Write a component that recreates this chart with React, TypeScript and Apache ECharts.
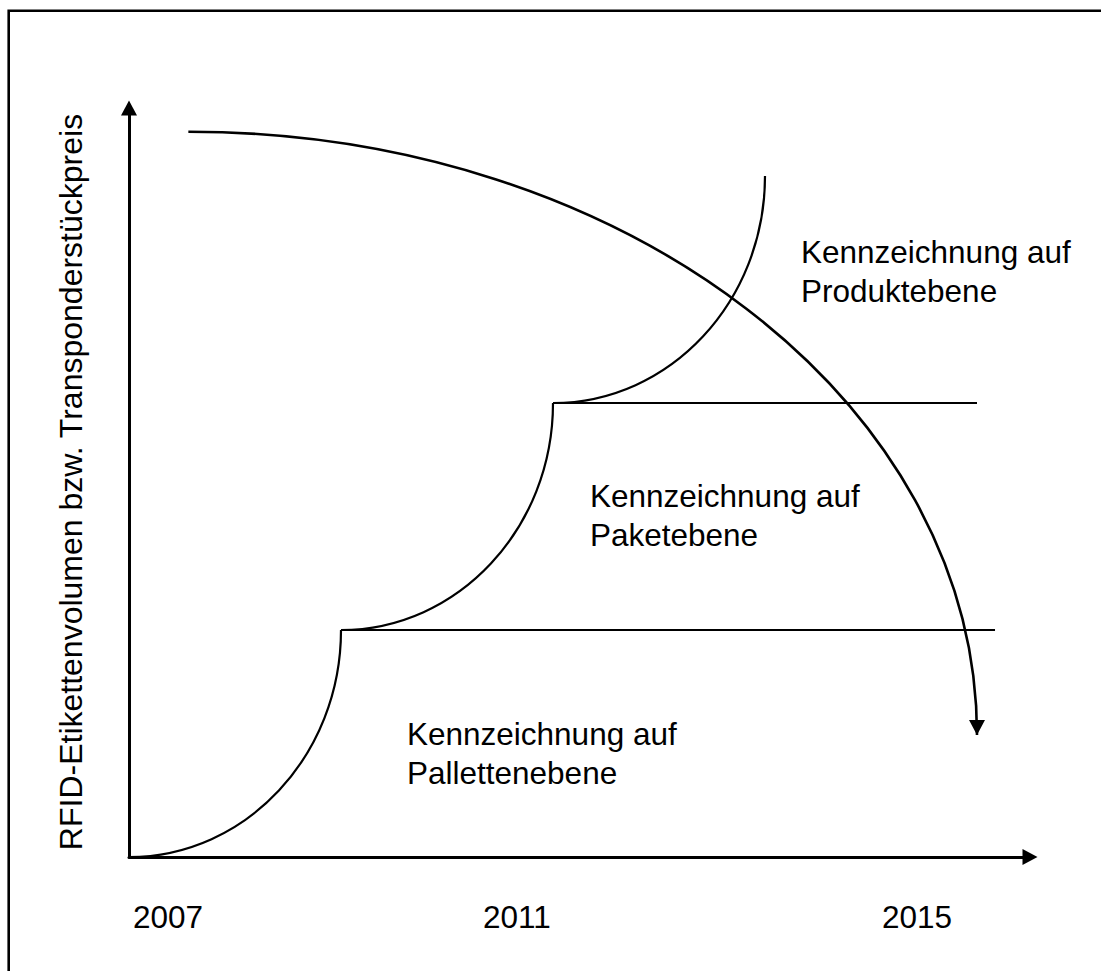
import React, { useEffect, useRef } from "react";
import * as echarts from "echarts";

// ---- data (years on x, adoption stage / volume on y) ----
const stageX = [2007, 2009, 2011, 2013];
const stageY = [0, 1, 2, 3];
const plateauStartX = [2009, 2011];
const plateauEndX = [2015.17, 2015];
const plateauY = [1, 2];
const priceStart = [2007.56, 3.195];
const priceEnd = [2015, 0.537];
const yearLabels = ["2007", "2011", "2015"];
const stageLabels = [
  ["Kennzeichnung auf", "Produktebene"],
  ["Kennzeichnung auf", "Paketebene"],
  ["Kennzeichnung auf", "Pallettenebene"],
];
const yAxisTitle = "RFID-Etikettenvolumen bzw. Transponderstückpreis";

const FONT = '"Liberation Sans", Arial, sans-serif';
const K = 0.5523;

export default function App() {
  const ref = useRef<HTMLDivElement>(null);
  useEffect(() => {
    document.body.style.margin = "0";
    const chart = echarts.init(ref.current!, undefined, { renderer: "svg" });

    const arcData: number[][] = [];
    for (let i = 0; i < stageX.length - 1; i++) {
      arcData.push([stageX[i], stageY[i], stageX[i + 1], stageY[i + 1]]);
    }

    const quarter = (api: any, lw: number) => {
      const p0 = api.coord([api.value(0), api.value(1)]);
      const p3 = api.coord([api.value(2), api.value(3)]);
      return {
        type: "bezierCurve",
        shape: {
          x1: p0[0], y1: p0[1], x2: p3[0], y2: p3[1],
          cpx1: p0[0] + K * (p3[0] - p0[0]), cpy1: p0[1],
          cpx2: p3[0], cpy2: p3[1] + K * (p0[1] - p3[1]),
        },
        style: { stroke: "#000", lineWidth: lw, fill: "none" },
      };
    };

    const textEl = (t: string, x: number, baseline: number) => ({
      type: "text",
      x,
      y: baseline - 11,
      style: { text: t, font: `31.5px ${FONT}`, fill: "#000", align: "left", verticalAlign: "middle" },
    });

    const stagePos = [
      [801, 263],
      [590, 507],
      [407, 745],
    ];
    const yearPos = [133, 483, 882];

    const graphics: any[] = [
      {
        type: "rect",
        shape: { x: 8.7, y: 10.7, width: 1200, height: 1200 },
        style: { stroke: "#000", lineWidth: 2.6, fill: "none" },
        silent: true,
      },
      {
        type: "text",
        x: 71,
        y: 482,
        rotation: Math.PI / 2,
        style: { text: yAxisTitle, font: `32px ${FONT}`, fill: "#000", align: "center", verticalAlign: "middle" },
      },
    ];
    stageLabels.forEach((lines, i) => {
      lines.forEach((l, j) => graphics.push(textEl(l, stagePos[i][0], stagePos[i][1] + j * 38.7)));
    });
    yearLabels.forEach((y, i) => graphics.push(textEl(y, yearPos[i], 928)));

    chart.setOption({
      animation: false,
      backgroundColor: "#fff",
      grid: { left: 129, top: 857 - 3.3 * 227, width: 901, height: 3.3 * 227, outerBoundsMode: "none" },
      xAxis: {
        type: "value", min: 2007, max: 2015.5,
        axisLine: { show: true, onZero: false, symbol: ["none", "triangle"], symbolSize: [16, 15], lineStyle: { color: "#000", width: 3 } },
        axisTick: { show: false }, axisLabel: { show: false }, splitLine: { show: false },
      },
      yAxis: {
        type: "value", min: 0, max: 3.3,
        axisLine: { show: true, onZero: false, symbol: ["none", "triangle"], symbolSize: [16, 15], lineStyle: { color: "#000", width: 3 } },
        axisTick: { show: false }, axisLabel: { show: false }, splitLine: { show: false },
      },
      series: [
        {
          type: "custom",
          name: "adoption",
          data: arcData,
          renderItem: (_p: any, api: any) => quarter(api, 2.2),
        },
        {
          type: "custom",
          name: "price",
          data: [[priceStart[0], priceStart[1], priceEnd[0], priceEnd[1]]],
          renderItem: (_p: any, api: any) => {
            const p3 = api.coord([api.value(2), api.value(3)]);
            return {
              type: "group",
              children: [
                quarter(api, 2.6),
                {
                  type: "polygon",
                  shape: { points: [[p3[0], p3[1]], [p3[0] - 8, p3[1] - 15], [p3[0] + 8, p3[1] - 15]] },
                  style: { fill: "#000" },
                },
              ],
            };
          },
        },
        ...plateauY.map((y, i) => ({
          type: "line",
          data: [[plateauStartX[i], y], [plateauEndX[i], y]],
          symbol: "none",
          lineStyle: { color: "#000", width: 2 },
        })),
      ],
      graphic: graphics,
    });
    return () => chart.dispose();
  }, []);
  return <div ref={ref} style={{ width: 1101, height: 971 }} />;
}
